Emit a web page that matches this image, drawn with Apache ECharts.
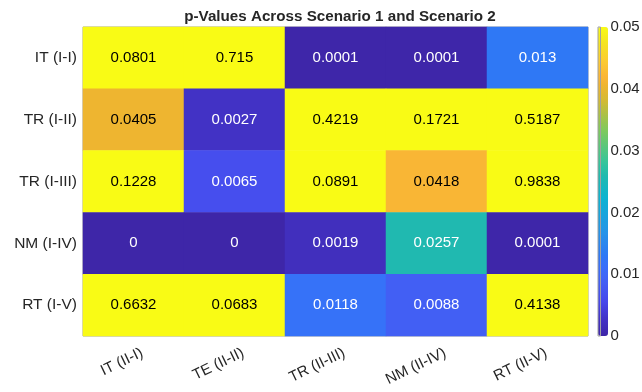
<!DOCTYPE html>
<html>
<head>
<meta charset="utf-8">
<script src="https://cdn.jsdelivr.net/npm/echarts@6/dist/echarts.min.js"></script>
<style>html,body{margin:0;padding:0;background:#fff}#c{width:642px;height:392px}</style>
</head>
<body>
<div id="c"></div>
<script>
const xCategories = ['IT (II-I)', 'TE (II-II)', 'TR (II-III)', 'NM (II-IV)', 'RT (II-V)'];
const yCategories = ['IT (I-I)', 'TR (I-II)', 'TR (I-III)', 'NM (I-IV)', 'RT (I-V)'];
const rowIT1 = [0.0801, 0.715, 0.0001, 0.0001, 0.013];
const rowTR2 = [0.0405, 0.0027, 0.4219, 0.1721, 0.5187];
const rowTR3 = [0.1228, 0.0065, 0.0891, 0.0418, 0.9838];
const rowNM4 = [0, 0, 0.0019, 0.0257, 0.0001];
const rowRT5 = [0.6632, 0.0683, 0.0118, 0.0088, 0.4138];
const colorbarTicks = [0, 0.01, 0.02, 0.03, 0.04, 0.05];
const cMin = 0, cMax = 0.05;

const rows = [rowIT1, rowTR2, rowTR3, rowNM4, rowRT5];

// parula-like colormap stops [t, color]
const stops = [
  [0.000, '#3E26A8'], [0.055, '#4232C6'], [0.111, '#4747EB'], [0.170, '#435DF3'],
  [0.222, '#3A6EFA'], [0.260, '#2F78F5'], [0.333, '#2793E8'], [0.444, '#0DB2D2'],
  [0.515, '#20B9B0'], [0.556, '#33C49E'], [0.667, '#80C95C'], [0.760, '#D2BA35'],
  [0.810, '#EEB530'], [0.840, '#FBB636'], [0.889, '#FCCB32'], [0.945, '#F5E323'],
  [1.000, '#F9FB15']
];
function hex2rgb(h){return [parseInt(h.slice(1,3),16),parseInt(h.slice(3,5),16),parseInt(h.slice(5,7),16)];}
function sample(t){
  for (let i=0;i<stops.length-1;i++){
    const a=stops[i], b=stops[i+1];
    if (t>=a[0] && t<=b[0]){
      const f=(t-a[0])/(b[0]-a[0]);
      const ca=hex2rgb(a[1]), cb=hex2rgb(b[1]);
      return 'rgb('+ca.map((v,k)=>Math.round(v+(cb[k]-v)*f)).join(',')+')';
    }
  }
  return stops[stops.length-1][1];
}
const palette = [];
for (let i=0;i<=100;i++) palette.push(sample(i/100));

const data = [];
rows.forEach((r, yi) => r.forEach((v, xi) => {
  data.push({
    value: [xi, yi, v, Math.min(Math.max(v, cMin), cMax)],
    label: { color: v < 0.033 ? '#ffffff' : '#000000' }
  });
}));

const FONT = 'Liberation Sans, Arial, sans-serif';
const chart = echarts.init(document.getElementById('c'), null, {renderer: 'canvas'});
chart.setOption({
  animation: false,
  backgroundColor: '#ffffff',
  textStyle: { fontFamily: FONT },
  title: {
    text: 'p-Values Across Scenario 1 and Scenario 2',
    left: 335, top: 4, textAlign: 'center',
    textStyle: { fontSize: 15.2, fontWeight: 'bold', color: '#262626', fontFamily: FONT }
  },
  grid: [
    { left: 83, right: 54, top: 27, bottom: 56, show: true, borderColor: '#a0a0a0', borderWidth: 1, backgroundColor: 'transparent' },
    { left: 598, width: 10, top: 27, height: 309, show: true, borderColor: '#a0a0a0', borderWidth: 1, z: 10 }
  ],
  xAxis: [
    { type: 'category', data: xCategories, gridIndex: 0,
      axisLine: { show: false }, axisTick: { show: false }, splitLine: { show: false },
      axisLabel: { rotate: 26, fontSize: 15, color: '#262626', margin: 12, interval: 0,
        verticalAlign: 'top', padding: [0, -6, 0, 0] } },
    { type: 'value', gridIndex: 1, show: false, min: 0, max: 1 }
  ],
  yAxis: [
    { type: 'category', data: yCategories, gridIndex: 0, inverse: true,
      axisLine: { show: false }, axisTick: { show: false }, splitLine: { show: false },
      axisLabel: { fontSize: 15.5, color: '#262626', margin: 6 } },
    { type: 'value', gridIndex: 1, position: 'right', min: cMin, max: cMax, interval: 0.01,
      axisLine: { show: false }, splitLine: { show: false }, axisTick: { show: false },
      axisLabel: { fontSize: 15, color: '#262626', margin: 10,
        formatter: v => { const t = colorbarTicks.find(c => Math.abs(c - v) < 1e-9); return t === undefined ? '' : String(t); } } }
  ],
  visualMap: {
    type: 'continuous', min: cMin, max: cMax, dimension: 3, seriesIndex: 0,
    calculable: false, orient: 'vertical', left: 598, top: 27, padding: 0,
    itemWidth: 10, itemHeight: 309, text: null, showLabel: false, hoverLink: false,
    inRange: { color: palette }
  },
  series: [{
    type: 'heatmap', xAxisIndex: 0, yAxisIndex: 0, data: data,
    label: { show: true, fontSize: 15, formatter: p => String(p.value[2]) },
    itemStyle: { borderWidth: 0 },
    emphasis: { disabled: true }
  }]
});
</script>
</body>
</html>
